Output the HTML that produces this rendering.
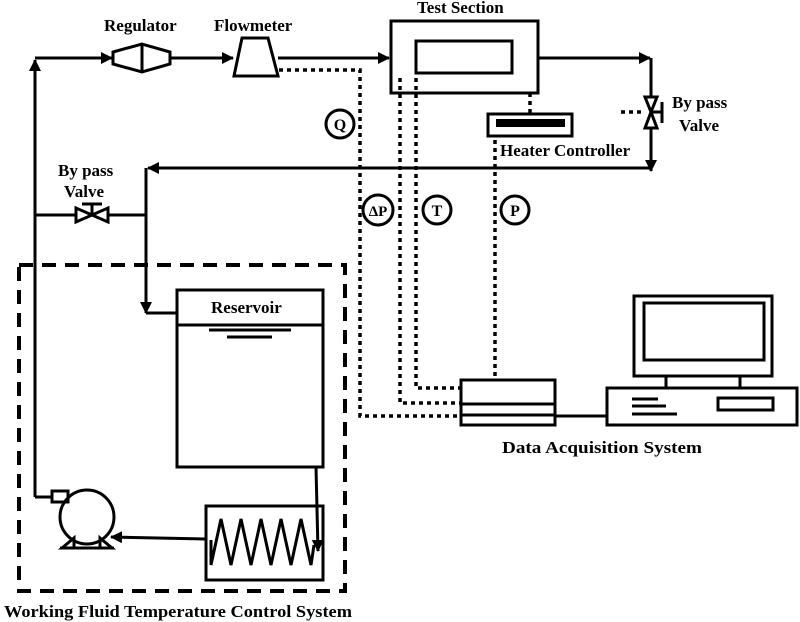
<!DOCTYPE html><html><head><style>body{margin:0;background:#fff}svg{display:block}text{font-family:"Liberation Serif",serif;font-weight:bold;fill:#000}</style></head><body>
<svg width="800" height="622" viewBox="0 0 800 622" xmlns="http://www.w3.org/2000/svg">
<defs><marker id="a" markerWidth="12" markerHeight="12" refX="11" refY="6" orient="auto" markerUnits="userSpaceOnUse"><path d="M0,0 L12,6 L0,12 z"/></marker></defs>
<g stroke="#000" stroke-width="3" fill="none">
<line x1="35" y1="497" x2="35" y2="60" marker-end="url(#a)"/>
<line x1="35" y1="58" x2="112" y2="58" marker-end="url(#a)"/>
<path d="M113,52 L142,44 L170,52 L170,64 L142,72 L113,64 Z"/>
<line x1="142" y1="44" x2="142" y2="72"/>
<line x1="170" y1="58" x2="233" y2="58" marker-end="url(#a)"/>
<path d="M242,38 L268,38 L278,76 L234,76 Z" fill="#fff"/>
<line x1="278" y1="58" x2="389" y2="58" marker-end="url(#a)"/>
<rect x="391" y="21" width="147" height="72"/>
<rect x="416" y="41" width="96" height="32"/>
<line x1="538" y1="58" x2="650" y2="58" marker-end="url(#a)"/>
<line x1="651" y1="58" x2="651" y2="171" marker-end="url(#a)"/>
<line x1="651" y1="168" x2="148" y2="168" marker-end="url(#a)"/>
<line x1="146" y1="168" x2="146" y2="313" marker-end="url(#a)"/>
<line x1="146" y1="313" x2="177" y2="313"/>
<line x1="35" y1="215" x2="146" y2="215"/>
<rect x="177" y="290" width="146" height="177"/>
<line x1="177" y1="325" x2="323" y2="325"/>
<line x1="316" y1="467" x2="318" y2="551" marker-end="url(#a)"/>
<rect x="206" y="506" width="117" height="74"/>
<path d="M211,540 L211,565 L221,519 L231,565 L241,519 L251,565 L261,519 L271,565 L281,519 L291,565 L301,519 L311,565 L314,545"/>
<line x1="206" y1="539" x2="111" y2="537" marker-end="url(#a)"/>
<circle cx="87" cy="517" r="27"/>
<path d="M35,497 L52,497"/>
<rect x="52" y="491" width="16" height="11"/>
<path d="M62,548 L74,538 L74,548 Z M100,538 L112,548 L100,548Z"/>
<line x1="60" y1="548" x2="114" y2="548"/>
<rect x="461" y="380" width="94" height="45"/>
<line x1="461" y1="404" x2="555" y2="404"/>
<line x1="461" y1="415" x2="555" y2="415"/>
<line x1="555" y1="416" x2="607" y2="416"/>
<rect x="607" y="388" width="190" height="37"/>
<rect x="634" y="296" width="138" height="80"/>
<rect x="644" y="303" width="120" height="57"/>
<line x1="666" y1="376" x2="666" y2="388"/><line x1="740" y1="376" x2="740" y2="388"/>
<line x1="632" y1="399" x2="658" y2="399"/><line x1="632" y1="406" x2="666" y2="406"/><line x1="632" y1="414" x2="677" y2="414"/>
<rect x="718" y="398" width="55" height="12"/>
<rect x="488" y="114" width="84" height="22"/>
<circle cx="340" cy="124" r="14"/>
<circle cx="378" cy="210" r="15"/>
<circle cx="437" cy="210" r="14"/>
<circle cx="515" cy="210" r="14"/>
</g>
<rect x="496" y="119" width="69" height="8" fill="#000"/>
<g stroke="#000" stroke-width="3" fill="#fff">
<path d="M76,208 L76,222 L92,215 Z M108,208 L108,222 L92,215 Z"/>
<line x1="92" y1="215" x2="92" y2="205"/><line x1="82" y1="204" x2="102" y2="204"/>
<path d="M645,97 L657,97 L651,112 Z M645,128 L657,128 L651,112 Z"/>
<line x1="651" y1="112" x2="661" y2="112"/><line x1="662" y1="102" x2="662" y2="123"/>
</g>
<g stroke="#000" stroke-width="3.5" fill="none" stroke-dasharray="4,4">
<path d="M279,70 L360,70 L360,416 L460,416"/>
<path d="M400,78 L400,403 L460,403"/>
<path d="M416,78 L416,388 L460,388"/>
<path d="M530,93 L530,114"/>
<path d="M495,140 L495,378"/>
<path d="M621,112 L642,112"/>
</g>
<rect x="19" y="265" width="326" height="326" fill="none" stroke="#000" stroke-width="4" stroke-dasharray="14,9"/>
<line x1="209" y1="330" x2="291" y2="330" stroke="#000" stroke-width="3"/>
<line x1="227" y1="337" x2="272" y2="337" stroke="#000" stroke-width="3"/>
<g font-size="17">
<text x="104" y="31">Regulator</text>
<text x="214" y="31">Flowmeter</text>
<text x="417" y="13">Test Section</text>
<text x="500" y="156">Heater Controller</text>
<text x="672" y="108">By pass</text><text x="679" y="131">Valve</text>
<text x="58" y="176">By pass</text><text x="64" y="197">Valve</text>
<text x="211" y="313">Reservoir</text>
<text x="502" y="453" textLength="200" lengthAdjust="spacingAndGlyphs">Data Acquisition  System</text>
<text x="4" y="617" textLength="348" lengthAdjust="spacingAndGlyphs">Working  Fluid  Temperature  Control  System</text>
<text x="340" y="130" text-anchor="middle" font-size="16">Q</text>
<text x="378" y="216" text-anchor="middle" font-size="15">ΔP</text>
<text x="437" y="216" text-anchor="middle" font-size="16">T</text>
<text x="515" y="216" text-anchor="middle" font-size="16">P</text>
</g>
</svg></body></html>
